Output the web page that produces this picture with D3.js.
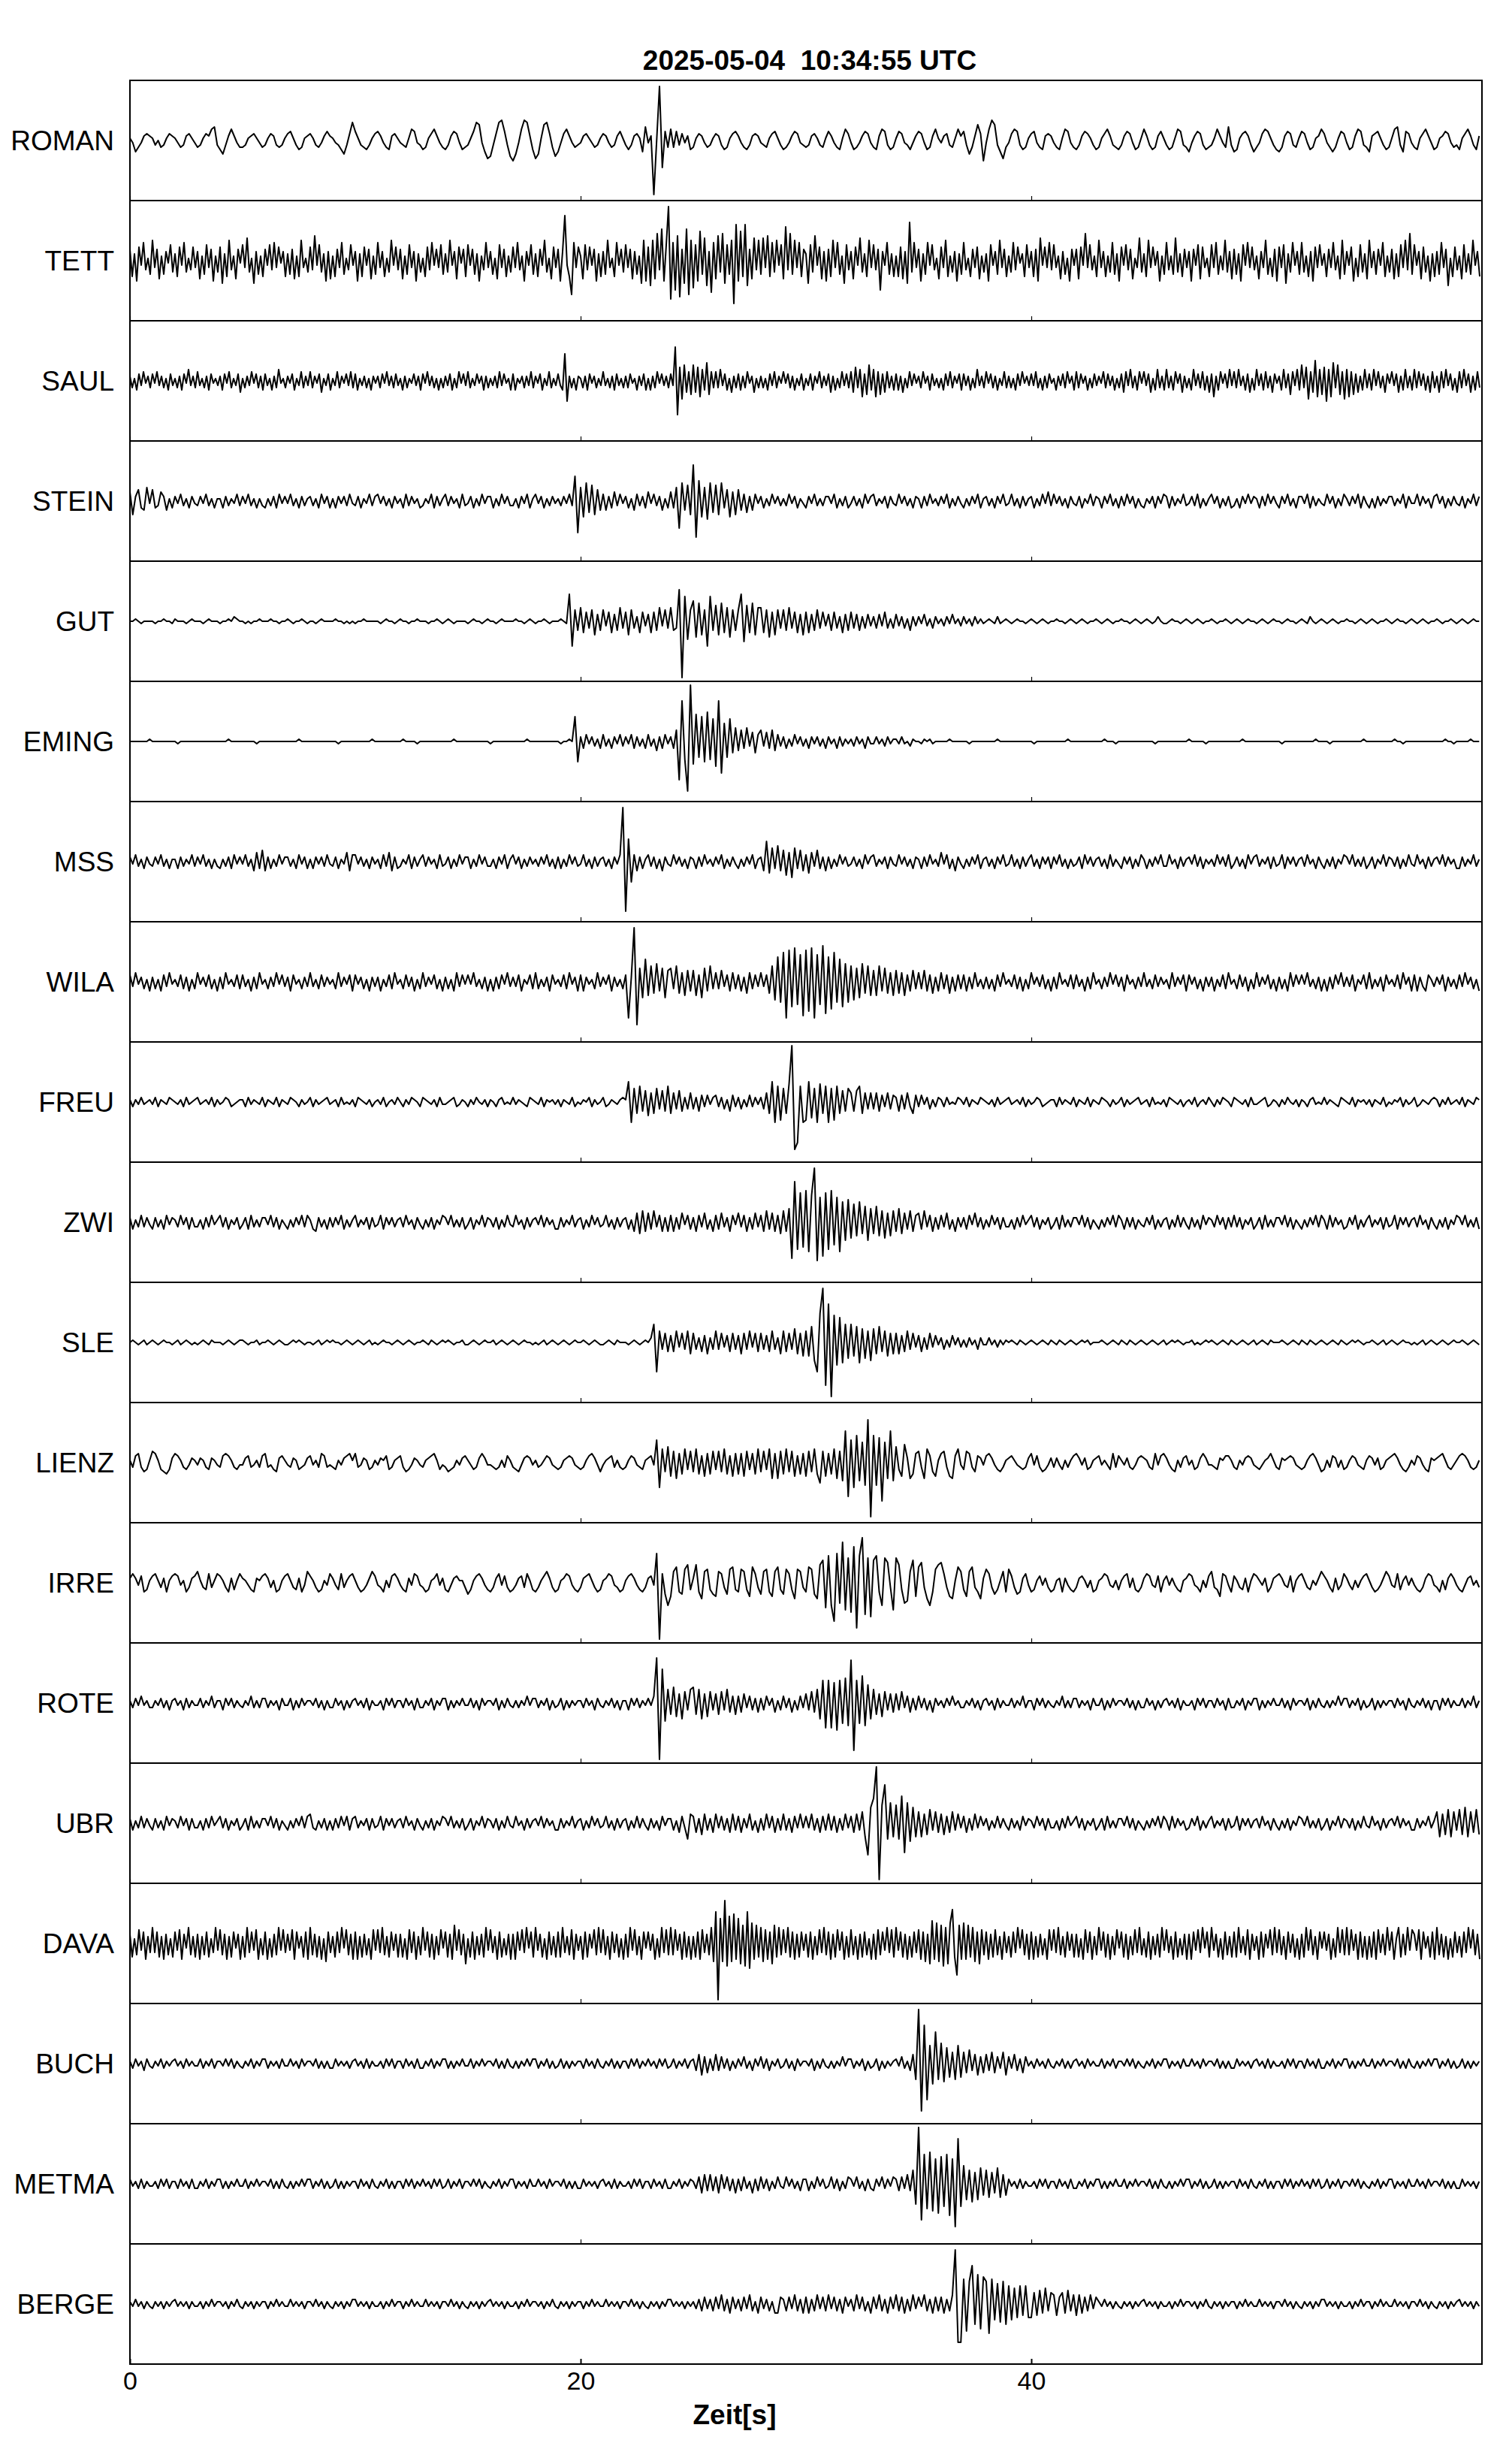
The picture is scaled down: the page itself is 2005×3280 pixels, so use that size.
<!DOCTYPE html>
<html>
<head>
<meta charset="utf-8">
<script src="https://cdn.jsdelivr.net/npm/d3@7"></script>
<style>
  body { margin: 0; background: #fff; }
  text { font-family: "Liberation Sans", Arial, Helvetica, sans-serif; fill: #000; }
</style>
</head>
<body>
<svg id="chart"></svg>
<script>
const stations = ["ROMAN", "TETT", "SAUL", "STEIN", "GUT", "EMING", "MSS", "WILA", "FREU", "ZWI",
  "SLE", "LIENZ", "IRRE", "ROTE", "UBR", "DAVA", "BUCH", "METMA", "BERGE"];
const xTicks = [0, 20, 40];
const titleText = "2025-05-04  10:34:55 UTC";
const xLabel = "Zeit[s]";

// traces, one blank-separated group per second
// sample code: 0 = 0, A..Z = +1..+26, a..z = -1..-26 (counts)
const wROMAN = `
AaecaBCB Ab0cbACB AacbBCAa cbACBEFb dfbBEBac cbABCAac bACBbcbA CDAbdcAB CAbcaBDB AabdfbCH
DAbcdbAC DBacdBCA abcAEDab dcACEBac dbBDCadc bADHGaeh gbCHIDbg ifaEIHBd hfAGHCcg eaCEBacb
aBCAacbA CBacbBDA bdbBCAeF aBx0XlDc EcDbCaBd cACBacbA CBbdcACD BacdbBCB abcACDAb dcaBDCab
cbBCAbcA DBacdAEC adcaBDCa cdBEDbdc ADCabdaB DCadcBEA aBCbcAEB DbfcBGCi aEIGbehc aCEDbdcA
CDacdBCB acdAEDac dbBDCAbd cACEBbcd bBDCadcA EBbdcBDA bdcAEDbc eaBDCbdc bAEBacFb edACDBbe
caCEDAbd ecBDCbcA DCadcABE CacecADC adcBEDbc eBCDAbdc AEFbeDCa cdACEBad cABDCacb dACEBbdB`;

const wTETT = `
EgCiFbHdAf IcEhBfDaGe CgFbHeAdFc DhBfGcEiBe FjCgIdBhEa GcJeAjDfBg EbGdHcFaDg CfEhBgIcAe FdKbGeCiDh BgEcHfAdGb
DiCgFbEhBf HcDgAeIbFd EhBfGcDiCe AgFdHbEcGf CeIbDhFaEg GbEfCiBdHc DfAhGcEgBe FcHdBiDbGf CgEbIeAhFc EiDTbgoHcF
BhGdFbEiCg DfIcAgHbEe GcEhDfBjIi FkIhLdNiGX qHmKpEjNoI lGiMfJkDnH hKeLjGfIsP iMgPkEhJdI fJcKgHeIbG hOdLfIcHgE
CjGeKbFhDi EgIcHfBjGd DhFbJeCgIc GdEmDbHfCg BgFhDjQeHc EiCfHbGdAh FcIgBeDiCf HdAgEcFhBe CiGbDfIcEg BeHdFaCgGc
DgEiJbFcHd GcBhDfAiEb EhFbLcGdBg IcDgBeHfCi FbGdEhAcJe CgIcFbDiBf HdBfJeCgEc DiEbGhFcAg GcHfBdIeDh EfCiGbHcFd
BhDcIfAgEi FcGjCeHbDf HeBgDiFcGb CgEcHdBhIf DbFiAgGeCh IcDfEbHgBe EhCgGcIdLf GbDhFeBiCg DfHcEkAgFd BhGeCfIbDg`;

const wSAUL = `
BcAdCbDaBc CaDbBcAdCb AcBdCaEbBc DbAcBdCaAb BdCaDcAbCe AcBbDaCcBd CbAdBcEaAc BaCdAbDcBb DcBaCeAbCd AbDcBaCbDc
CdAbBcAdBa BcCaDbBcCb AdBcAaCbBd CaDbBcAdAc BbCdAcDaCb DcAbCaBdBc AbBcDbCaAd CdAaBcBbDc BaCdAbDcAb CbdLiBcAdB
AcBdCaBcAb DbAcBdCbAc BcCaAdBbCd AdBcDaCbBc CbOoFhGeDf GeFgEdHfDc DcEbCdAeBc CdBcDaBeAc BcAdCbDcBa DaCcBdAbCd
AbCdBaDcBb CeBdAcDbCc DeFcEgCfGd EgDfCeDcBd CdBeAcDbCa BcDaBdCbAc AdCbDcBaCd CbBdAcEbBc DaCcBdAbDc BcAdCbDaBb
CbDcAdBcCa AdBbCcDaBd DcCaBdAcCb BaDcCbBdAc CeDbEcBdDa DbCeAdEcBd EcBdDaCeBc AdEbCcDdBe CgBdDaCcEb DcEbBdCeAd
EbCdDcBeCa BdEcCfDbEd GcFhDeIgEf FiEgHcGfDh EgDfCeBdEc CdEbDcBeCa DbCeBdEcBd EcDbCdBeDc BeDcEbCdAe DcEbCeBdDc`;

const wSTEIN = `
DfBEcdFa EcbDBdAc BaCbAcBa bBaCbAcA AcBbAaCb BaCbAcAb cAbBcCaB aCbAcBbA BbAcCaBc AcBaBbCa
bBcAaCbB CaBbAcBa AcCbBaAc bAaCcBbA CbBaAcCb aBcAbCaB BcAbCaBb bAcBaCcA CaBcAbBa AbBaCbKn
FgHeGfEd CdBcDbCa BcAdCbBc DaCbBdAc DcFlHdGf PpIgFhHe GfHcEgDf EdCeBdCa BcAbCaBb AbCaBcAa
cBaCbAbB BaCcAbBc aBbAcCaB CbAaBcBa bCaBbAcB AcBbCaAb BaCcAbBa cAbBaCcA BbAcBaCb aCbAcBbA
BcAbCaDb CaBbAcBa bBcAaCbB AcBaCbAc BbCaBcAb cAaBcBaC BcBbAaCb aBbCcAbA CaBcAbBc bAcBaCaB
AcBbCaBa cBaCbAcB BaCcBbAa bCaBcAbC AbBaCcBa cAcBbAaB BbAaCcBa aCbBaAcB CaBcAbBa bBcAaCbB`;

const wGUT = `
00A0a000 0a00A00a A000a0A0 00a0A000 a00A0BA0 0a0a00A0 00A00a00 A0a00A0a 00a0A000 0A00a0a0
a00A0000 0a0A00a0 A00a00A0 00a00A0a 0A0a0000 a0A00a0A 00a0A000 0A00a0A0 a00A0a00 0A0aLkEd
FeDcEfCd EbDeCdFc DfEcBeDb CeDdFbEc FdcNyKhE IgHfEkKd GfHeFgEd ELiGeHfF FeEgDfEc EdFcDeCf
DeCdEcDb CdDcBeCd DcCdBcCb BcCbDcAc CbBcAdBb BaCbAcBa AbBaCaAb BaAbBaAa 0A0aBa0A 0a0A00a0
A0a0A0a0 0A00a0A0 a0A0a00A 0a0A0a00 A00a0A0a 0A0a0B0a a0A00a0A 0a0A0a00 A0a00A0a 0A0a0A00
a0A0a0A0 0a0A00a0 A0aB0a0A 0a0A0a00 A00a0A0a 0A0a00A0 a0A00a0A 0a0A0a00 A0a00A0a 0A0a0A00`;

const wEMING = `
0000000A 00000000 0a000000 00000000 000A0000 00000a00 00000000 0000A000 00000000 00a00000
000000A0 00000000 0A0000a0 00000000 000A0000 00000000 a0000000 00000A00 00000000 0a00A0Ki
BcCaBbAc CbAcBaCb BaCcBbAc CbAdBcCa BcEqRhvY jLgKiMhJ kRnHgJeF dEcFbDeC EbDcEdCb BcAbCaBb
AcBaBbAc BaAcBbAa AbBaAcBa aBaAbBaA AaBa0bA0 0aA0Aa00 000A0000 00a00000 0000A000 00000000
0a000000 00000A00 00000000 00A000a0 00000000 0000a000 00000000 A00000a0 00000000 000A0000
00000000 0a000000 00000A00 00a00000 000000A0 00000000 0A00a000 00000000 000A00a0 0000A000`;

const wMSS = `
BaCbAcBa bBaCbAcA AcBbAaCb BaCbAcAb cAbBcCaB aCbAdDcE dBcAbCaB BbAcCaBc AcBaBbCa bBcAaDdC
CaBbAcBa AcCbDdBc bAaCcBbA CbBaAcCb aBcAbCaB BcAbCaBb bAcBaCcA CaBcAbBa AbBaCbAc BcAbCaBb
aCbAcBbA BbAcBaCX vJiCdBcA CbBcAdBa bCaBbAcB AcBbCaAb BaCcAbBa cAbBaCcA BdIeFcGd EfDgFcEd
CeDbEcBd BcAbCaBb aBbAcCaB CbAaBcBa bCaBbAcB AcBbCaAb DaCcAdBa cAbBaCcA BbAcBaCb aCbAcBbA
CbAcBaBc BaCbAcAb aBcCaBbA BbAcCbAa cBaBcAbC AcAbBaCb bCaAcBbA BaCbBcAa AbCaBbCc aBbAcCaB
CbAaBcBb aCcBaBbA BbCaAcBa cAbBcAaC BaCbAbBc aBcAaCbB AbBcAbCa bCaAcBbA BaCbBaAc cBbAaCbA`;

const wWILA = `
CbDaBcAd BcAdCbDa AbCcBdAc DaBbCcAd BcDaAbCc CbAdBcDa AcBbDaCb BdCaAcBb DbAcCbBa AcDbBaCd
CaBcAdBb BdAbCcDa AcCbBdAc DbBaCcAd BcAdDbCa CaDbAcBd AdBcCaDb BbCdAaCc DcAbBdCa AbCcDaBd
CdBaAcDb BaCdBbAc CpBXsFgJ fGeHdFgE FcGeDfEd EfCgFdGc DcEbCdDc CdBeDcCb DbCeGhKi MpNkOjLo
NmOpLjPn KlMiJkHi GhFgHeGf EfGdFeDf EeDfCdEc DcEdCeBd DcCeBdCc CdBcDbAc BcAdCbDa AbCcBdAc
DaBbCcAd BcDaAbCc CbAdBcDa AcBbDaCb BdCaAcBb DbAcCbBa AcDbBaCd CaBcAdBb BdAbCcDa AcCbBdAc
DbBaCcAd BcAdDbCa CaDbAcBd AdBcCaDb BbCdAaCc DcAbBdCa AbCcDaBd CdBbdCAb BaCdBbAc CbDaBcAd`;

const wFREU = `
AbAaBa0A aBbA0aBA 0aAbBa0A Ba0AaBbA a0BAba0A AbBaA0aB bA0aBbA0 aBA0bAa0 BbAa0ABa 0AbBa0aA
bBA0aAb0 AaBb0AaB 0bAaBA0b BA0aAbBa a0ABbaA0 bAaB0aAb A0bABa0a BaA0abBA 0aBbA0Aa AbA0aBb0
aA0BbAa0 BbaA0aAB AIiFeGdE fDeFcEdG eDcEdBcD cBdCbCaB CbBcAdCb BcAbCbBa BcDeIiGh FeHYurGi
hIgFiHeG iFhGeEdF DdEGeDcD cDdCbDcC BdCcDbeC bCaBcAbB AbBa0aBA aBbA0aBA 0aAbBa0A Ba0AaBbA
a0BAba0A AbBaA0aB bA0aBbA0 aBA0bAa0 BbAa0ABa 0AbBa0aA bBA0aAb0 AaBb0AaB 0bAaBA0b BA0aAbBa
a0ABbaA0 bAaB0aAb A0bABa0a BaA0abBA 0aBbA0Aa AbA0aBb0 aA0BbAa0 BbaA0aAB AbAaBa0A aBbA0aBA`;

const wZWI = `
BcAbCbBa cBbAcCaB AbCaBcBb bAcBbCaA CbBcAaBc aBcCbAbB BaCbBcAa cAbBaCbC AcdBbAcB bBaCcAbA
CbAaBcBb aCcBaBbA BbCaAcBa cAbBcAaC BaCbAbBc aBcAaCbB AbBcAbCa bCaAcBbA BaCbBaAc cBbAaCbA
BcAbCaBb aCbAcBbA BcAdDeEd DcEbCdBd CdBcDaCc BdCbDcAd CcDbBdCa DbCdBcDb CdEcDdCe EdFpRlMk
NmLXqKoM lNjKmIhJ gHfIeGhF eGfEgDfE dFeDcEdC DcEbCdBc CbDcAdBb BcCaDbBc AbCaBcBb bAcBbCaA
CbBcAaBc aBcCbAbB BaCbBcAa cAbBaCbC AcBbBcAa bBaCcAbA BcAbCbBa cBbAcCaB AbCaBcBb CbBcAaBc
aBcCbAbB BaCbBcAa cAbBaCbC AcCbBaAc bBaCcAbA CbAaBcBb aCcBaBbA BbCaAcBa cAbBcAaC BaCbAbBc`;

const wSLE = `
0A0a0Aa0 A0a0A00a 0Aa0A0a0 a0A0aA00 0a0A0a0A A0a00Aa0 0A0a0A0a a0A0A0a0 0a0Aa0A0 A00a0A0a
0A0a0Aa0 a0A00a0A 0a0A0a00 A0aA0a0A 0A0a00Aa a0A0a0A0 0Aa0A0a0 A0a0A00a 0a0Aa0A0 a0A0a0A0
0A0a0A0a a0A0aA00 0a0A0a0A 0BHmEcDd CdEbDcEe DcBdCeBc EcDbCdDc CeDcEbDd DcCdEcBe EdDcFeDf
EfGhmMXs QxLjKiHg HfGiFgEh FeGdEfDe DeCdEcDb CdBcDbCa BcAbCaBb AbBaAcBa aBaAbAaA 0A0aA0a0
A0a0A0aA 0aA0a0A0 a0A0Aa00 0A0a0A0a A0aA0a0A 0a0A0a0A a0A0A0a0 0Aa0a0A0 A0a0A0aA 0a0A0a0A
a0A0aA00 0A0a0A0a A0aA0a0A 0a0A0aA0 a0A0A0a0 0A0a0Aa0 A0a0A00a 0a0Aa0A0 a0A0a0A0 0A0a0A0a`;

const wLIENZ = `
AbCDbdcA EDAcdecB DCAbcaBA aBAbcBAa bCDCAbca aBCbaAbC DbacdBCA abBAcbaB CaAbDCba bcAaBCDA
DbaBAcbA aBACcbAB CbdcaBAa bABCDAca bdcbAaBC AacbBDBa abcbAbCA bcdaBCBa AbaACBab cbABCBab
cbACDBad aABCbAbc bACBabcA BCaJkFdG fEgDeFcE dFeCfDeE cEdFeCfD eDfEcDeF dEcFgDgE eFdEfCeD
fEdFeiEf DeFgEhNo JkLhIjSx LjKqIgNh GcfHBgeD EbgFCdfA DEbfgCFa cEDbdCBa CDBacdbA BCAabcbB
DaCbdcaB bBacAbAC DBaBcbAB CaAacDbC AaBbcaBC BAbcDaCD BacdAbBC aAcbBDBa abcBACCA bcAaBCBa
bcaABDAb cBABCBab cbACDBad cAbCBbAc bACBabcA CBaBcbAB CDBacdbA aCBacdBA BCDAbcaA CDCAbcbA`;

const wIRRE = `
BDBaCdcA CDAbBdAC DCaAdbBC EAbcDbAD CAbdBcAD BAacdBAC DBbAdcAC DAbcBdaE CAbdcAaD BacDbACD
AbdcaBEC abdAbCDB acdBaDCa bdcABDaB cdaBCAAb ecACDBac dbBDaCbd caBCbDAc dbACEBbd cABDCacd
bBCDAbdc ABDCabdc ACDBacdb BCaMyDej fEGdeFHc BHdgEFce fEDbeFGc dFEcfGDb eEFdfEGc eFDcgFEb
dGFegHJk LjqMiRlK mPtLTnKo JLdjKIbl KHcihEJf GIbgjdFH IDbfgAGE cfEGbdgB FDbecAEd FCbedBDa
dcACaBbd cABdBacd bBCAbAdc ABDCabAc ACDbBcdb BDCabCdA CaBacdAB DCabdAbC EbcfDCad CAbcBdAD
CAaBdbBC DBabCdAC DAbcAaBE CAbdBcaD BacAbACD AbdcaBEC abDcACaB acdbBDCa bdAcBDBa cdaBCaAb`;

const wROTE = `
AbBaCaAb bAaBbAcA BaAcBbAa aBbAaCbA AcBaBbAa bAaCbAbB BbAaAcBa aBcAbBaA AaBbAcAb bBaAcAbA
BaAbBcAa aAcBaBbA AbBaAcBb bAaBcAaB BcAbAaBa aBbAcBaA AaBcAbBa bAbAaCaB BbAaBcAb aBcAbAaA
AbBaAcBa bAaBbAcA AcBaBbAa BaCTyOhF eGfDgEcF GeFgDfEc DeEcFdCe CdDbCcBd BcCaBdAc CbBdAcCb
DcEdFgJk JkIlJiKj SuJiLjHg FeDfEcDd DcEbCdBc CbBcAdBa AbBaCaAb bAaBbAcA BaAcBbAa aBbAaCbA
AcBaBbAa bAaCbAbB BbAaAcBa aBcAbBaA AaBbAcAb bBaAcAbA BaAbBcAa aAcBaBbA AbBaAcBb bAaBcAaB
BcAbAaBa aBbAcBaA AaBcAbBa bAbAaCaB BbAaBcAb aBcAbAaA AbBaAcBa bAaBbAcA AcBaBbAa aBbAaCbA`;

const wUBR = `
BcAbCbBa cBbAcCaB AbCaBcBb bAcBbCaA CbBcAaBc aBcCbAbB BaCbBcAa cAbBaCbC DbcAbBcA cBbCaCcB
CbAaBcBb aCcBaBbA BbCaAcBa cAbBcAaC BaCbAbBc aBcAaCbB AbBcAbCa bCaAcBbA BaCbBaAc cBbAaCbA
BcAbCaBb aCbAcBbA BcAbCbBa cBbAcCaB BcAdCbgD CdBeDcBd DbCcBdDc CdBbDcAd BcDbCdBc DcBdCbDb
CbDcBdCc DcCdBcDb CdDcEfnG KYyHQgIf HgLmIhGf EfDeFcEd DeCdEcDb CdBcDbCa BcAbCbBa cBbAcCaB
AbCaBcBb bAcBbCaA CbBcAaBc aBcCbAbB BaCbBcAa cAbBaCbC AcCbBaAc bBaCcAbA CbAaBcBb aCcBaBbA
BbCaAcBa cAbBcAaC BaCbAbBc aBcAaCbB AbBcAbCa bCaAcBbA BaCbBaAc cBbAaCbA EfDeFfEc FeGfEdFe`;

const wDAVA = `
DfBeFcEgCd GdEfCgDeBf EcFgDbGeCf DgCeEfBdGc FeDgCfEbDg CfGdEcFgBe EgBfDeGcFd DcFgEbCfEg GeDfCgBhEd CfEdGbFeDg
EgCfDeBgFc FdGeCfEcDf DfBgFdEgCe GcEfDgCeFb EfDgHcFeDi BfEgCeDfGc FdCgEfBeDg DgEcFdGbEf GcDfBgEeCf EfGdCeFgDc
CgEfDbFeGd FeCgEdDfBg DfGcFeCgEb EcDgBfGdFe GeFcDgEfCg CfEgFdDeGh NyKhSjLhMg KiHjNkIgHf GhFgEiHfGe FdGfEgDfEc
DfEgCeFdGe EgDfFcEgCf FeCgDfEeBg DgFeEcGdFf GcEfDgCfEd FgEhDiJgIh HjGiIOfnHg IgHfGhEiFe EgDfFeCgEd CfEdGbFeDg
EgCfDeBgFc FdGeCfEcDf DfBgFdEgCe GcEfDgCeFb EfDgCeFdGe BfEgCeDfGc FdCgEfBeDg DgEcFdGbEf GcDfBgEeCf EfGdCeFgDc
CgEfDbFeGd FeCgEdDfBg DfGcFeCgEb EcDgBfGdFe GeFcDgEfCg CfEgFdDeGc EgBGfDeGcF DcFgEbCfEg GeDfCgBfEd CfEdGbFeDg`;

const wBUCH = `
AbBaAcBa bAaBbAaA BaAbBaAa aBbAaBbA AaBaBbAa bAaBbAaB BbAaAbBa aBaAbBaA AaBbAbAb bBaAaAbA
BaAbBbAa aAbBaBbA AbBaAbBb bAaBbAaB BbAbAaBa aBbAaBaA AaBbAbBa bAbAaBaB BbAaBbAb aBbAbAaA
AbBaAbBa bAaBbAbA AbBaBbAa BaAbBaBb aBbAaBbA BcDeCdBc DcCbBcAb BaCbAcBa CbBcAaBb aBbAcBaA
AaBcAbBa bAbAaCaB BbAaBcAb aBcAbAaA BaCbAcDg XuQpHiNg IhGfEgHf EdFcDeCd DcEdCbEe CbDcBdCa
AbBaAbBa bAaBbAbA BaAbBaAa aBbAaBbA AaBaBbAa bAaBbAaB BbAaAbBa aBaAbBaA AaBbAbAb bBaAaAbA
BaAbBbAa aAbBaBbA AbBaAbBb bAaBbAaB BbAbAaBa aBbAaBaA AaBbAbBa bAbAaBaB BbAaBbAb aBbAbAaA`;

const wMETMA = `
BaAbBbAa aAbBaBbA AbBaAbBb bAaBbAaB BbAbAaBa aBbAaBaA AaBbAbBa bAbAaBaB BbAaBbAb aBbAbAaA
AbBaAbBa bAaBbAbA AbBaBbAa BaAbBaBb aBbAaBbA AaBaBbAa bAaBbAaB BbAaAbBa aBaAbBaA AaBbAbAb
bBaAaAbA BaAbBbAa aAbBaBbA AbBaAbBb bAaBbAaB AbCdDcDc CdDbCcBd BcCbAdBc CbBcAbCa bCaBbAcB
BcAbCaBb aCbBcAbC BaCbAcBb cBaCbBaC BcCbDcFi YpMkNlKm LjMnKsTj HgFhEgGe FfEdGfDe BaAbBbAa
aAbBaBbA AbBaAbBb bAaBbAaB BbAbAaBa aBbAaBaA AaBbAbBa bAbAaBaB BbAaBbAb aBbAbAaA AbBaAbBa
bAaBbAbA AbBaBbAa BaAbBaBb aBbAaBbA AaBaBbAa bAaBbAaB BbAaAbBa aBaAbBaA AaBbAbAb bBaAaAbA`;

const wBERGE = `
AaBaAbAa bAaAbAaA BaAaAbAa aAbAaBaA AaAbAaBa bAaAbAaA AbAaBaAa aBaAaAbA AaBaAbAa bAaAbAaB
BaAaAbAa aAbAaBaA AbAaBaAa aBaAaAbA AaBaAbAa bAaAbAaA BaAaAbAa aAbAaBaA AaAbAaBa bAaAbAaA
AbAaBaAa aBaAaAbA AaBaAbAa bAaAbAaB BaAaAbAa AbBcCbBc CbDcBdCb BcCbDcAd CbBcAddC BcCbDcBd
CdBcDbCc DbCcBdCa BcDbCcAd CbDcBdCb DcCdBcDb CaDcBdCc CdBcDXqq KlJQiMkL JmKgIhJi HgGfHeHf
fEeFdGcE DeCEdFcD eDdCcDbC AaBaAbAa bAaAbAaA BaAaAbAa aAbAaBaA AaAbAaBa bAaAbAaA AbAaBaAa
aBaAaAbA AaBaAbAa bAaAbAaB BaAaAbAa aAbAaBaA AbAaBaAa aBaAaAbA AaBaAbAa bAaAbAaA BaAaAbAa`;

const waves = [wROMAN, wTETT, wSAUL, wSTEIN, wGUT, wEMING, wMSS, wWILA, wFREU, wZWI,
  wSLE, wLIENZ, wIRRE, wROTE, wUBR, wDAVA, wBUCH, wMETMA, wBERGE];

const width = 2005, height = 3280;
const left = 173, right = 1973, top0 = 107, rowH = 160;
const duration = 60;

function decode(str) {
  const groups = str.trim().split(/\s+/);
  const step = duration / groups.length;
  const pts = [];
  groups.forEach((g, s) => {
    for (let j = 0; j < g.length; j++) {
      const c = g[j];
      let v = 0;
      if (c >= "A" && c <= "Z") v = c.charCodeAt(0) - 64;
      else if (c >= "a" && c <= "z") v = -(c.charCodeAt(0) - 96);
      pts.push({ t: (s + j / g.length) * step, v: v });
    }
  });
  return pts;
}

const svg = d3.select("#chart")
  .attr("width", width)
  .attr("height", height)
  .style("background", "#fff");

const x = d3.scaleLinear().domain([0, duration]).range([left, right]);
const y = d3.scaleLinear().domain([-rowH / 6, rowH / 6]).range([rowH, 0]);

const line = d3.line()
  .x(d => x(d.t))
  .y(d => y(d.v));

svg.append("defs").append("clipPath")
  .attr("id", "panel-clip")
  .append("rect")
  .attr("x", left)
  .attr("y", 0)
  .attr("width", right - left)
  .attr("height", rowH);

stations.forEach((name, i) => {
  const last = i === stations.length - 1;
  const g = svg.append("g")
    .attr("transform", "translate(0," + (top0 + i * rowH) + ")");

  g.append("path")
    .datum(decode(waves[i]))
    .attr("clip-path", "url(#panel-clip)")
    .attr("fill", "none")
    .attr("stroke", "#000")
    .attr("stroke-width", 2)
    .attr("stroke-linejoin", "round")
    .attr("d", line);

  // small inward ticks on each panel's bottom edge
  const ax = g.append("g")
    .attr("transform", "translate(0," + rowH + ")")
    .call(d3.axisBottom(x).tickValues(xTicks).tickSizeInner(last ? -7 : -6)
      .tickSizeOuter(0).tickFormat(last ? d3.format("d") : ""));
  ax.select(".domain").remove();
  ax.selectAll(".tick line").attr("stroke", "#000").attr("stroke-width", last ? 2 : 1.2);
  ax.selectAll(".tick text")
    .attr("fill", "#000")
    .attr("y", 10)
    .style("font-family", '"Liberation Sans", Arial, Helvetica, sans-serif')
    .style("font-size", "34px");

  g.append("rect")
    .attr("x", left)
    .attr("y", 0)
    .attr("width", right - left)
    .attr("height", rowH)
    .attr("fill", "none")
    .attr("stroke", "#000")
    .attr("stroke-width", 2);

  g.append("text")
    .attr("x", 152)
    .attr("y", rowH / 2 + 13)
    .attr("text-anchor", "end")
    .style("font-size", "37px")
    .text(name);
});

svg.append("text")
  .attr("x", 1078)
  .attr("y", 93)
  .attr("text-anchor", "middle")
  .style("font-size", "37px")
  .style("font-weight", "bold")
  .style("white-space", "pre")
  .text(titleText);

svg.append("text")
  .attr("x", 978)
  .attr("y", 3227)
  .attr("text-anchor", "middle")
  .style("font-size", "37px")
  .style("font-weight", "bold")
  .text(xLabel);
</script>
</body>
</html>
